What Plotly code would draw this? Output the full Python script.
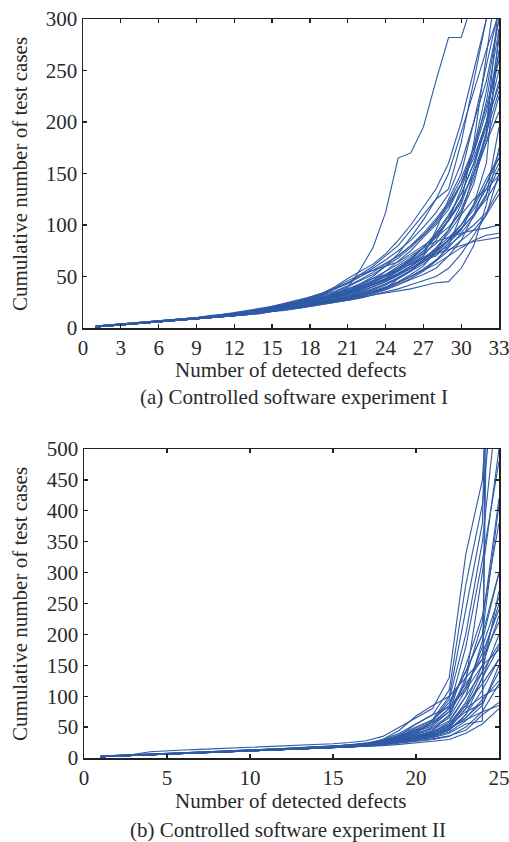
import plotly.graph_objects as go

# ---------- Data: experiment I (x = 1..33) ----------
defects_a = list(range(1, 34))
runs_a = [
    [1,2,3,4,5,6,7,8,9,11,12,14,15,17,19,21,23,26,29,33,39,57,78,112,165,170,195,240,282,282,320,350,380],
    [1,2,3,4,5,6,7,8,10,11,12,14,16,18,20,22,25,28,32,38,44,52,60,70,80,95,110,125,135,180,240,300,330],
    [2,3,4,5,6,7,8,9,10,12,13,15,17,19,21,23,25,27,30,33,36,40,46,55,65,75,88,100,115,140,170,220,290],
    [1,2,3,4,5,6,7,8,9,10,11,12,14,15,17,19,21,23,25,28,30,34,38,42,48,55,62,72,85,100,120,145,165],
    [1,2,3,4,5,6,7,8,9,10,11,13,14,16,18,20,22,25,28,31,35,40,45,50,55,62,68,72,76,80,84,86,88],
    [1,2,3,4,5,6,7,8,9,11,12,13,15,17,19,21,23,26,29,32,36,42,48,55,62,70,78,84,88,92,95,97,100],
    [1,2,3,4,5,6,7,8,9,10,12,13,15,16,18,20,22,24,26,28,31,35,40,46,52,60,70,85,105,135,170,210,260],
    [1,2,3,4,5,6,7,8,9,10,11,13,14,16,17,19,21,23,25,27,29,32,36,40,45,52,60,75,95,120,155,200,250],
    [2,3,4,5,6,7,8,9,10,11,13,14,16,18,20,23,26,29,33,38,43,50,58,66,75,85,98,112,130,160,200,255,310],
    [1,2,3,4,5,6,7,8,9,10,11,12,14,15,16,18,19,21,23,25,27,30,33,37,42,48,55,65,80,110,150,190,230],
    [1,2,3,4,5,6,7,8,9,11,12,14,16,18,20,22,24,27,30,34,38,43,50,60,72,88,105,125,150,190,230,270,305],
    [1,2,3,4,5,6,7,8,9,10,11,13,14,15,17,18,20,22,24,26,28,31,34,38,42,47,52,58,70,85,110,140,170],
    [1,2,3,4,5,6,7,8,10,11,13,14,16,18,20,23,26,30,34,40,48,55,62,72,85,100,118,135,160,200,250,300,340],
    [1,2,3,4,5,6,7,8,9,10,11,12,14,15,17,19,21,23,25,27,30,33,37,42,48,56,66,78,92,110,125,135,148],
    [1,2,3,4,5,6,7,8,9,10,12,13,15,17,19,21,24,27,31,35,40,46,52,60,68,78,90,104,120,140,165,200,235],
    [1,2,3,4,5,6,7,8,9,10,11,12,13,15,16,18,20,22,24,26,29,32,35,39,44,50,57,65,75,85,95,110,130],
    [2,3,4,5,6,7,8,9,10,11,12,14,15,17,19,21,23,25,28,31,34,38,43,48,55,63,72,82,95,115,145,180,225],
    [1,2,3,4,5,6,7,8,9,10,11,13,15,17,19,21,23,25,28,31,34,38,42,47,53,60,68,76,85,96,110,130,155],
    [1,2,3,4,5,6,7,8,9,11,12,14,16,18,21,24,27,30,34,38,44,50,56,63,70,80,90,102,118,140,175,230,300],
    [1,2,3,4,5,6,7,8,9,10,11,12,13,14,16,17,19,21,23,25,27,29,32,35,38,42,46,50,58,72,90,110,150],
    [1,2,3,4,5,6,7,8,9,10,11,13,14,16,18,20,22,24,27,30,33,37,42,48,56,66,78,92,110,130,160,195,240],
    [1,2,3,4,5,6,7,8,9,10,12,13,15,17,19,21,23,26,29,32,36,40,45,51,58,67,78,90,105,125,150,185,270],
    [1,2,3,4,5,6,7,8,9,10,11,12,14,15,17,18,20,22,24,26,29,32,35,39,44,50,56,62,70,78,85,90,92],
    [1,2,3,4,5,6,7,8,9,11,12,13,15,17,19,22,25,28,32,36,41,47,54,62,70,80,92,106,122,145,175,215,265],
    [1,2,3,4,5,6,7,8,9,10,11,12,14,15,17,19,21,23,25,28,31,34,38,43,49,56,64,74,86,100,118,140,165],
    [1,2,3,4,5,6,7,8,9,10,11,13,14,16,18,20,22,25,28,31,35,39,44,50,57,65,75,88,105,125,150,180,210],
    [2,3,4,5,6,7,8,9,10,11,12,14,15,17,19,21,23,26,29,32,36,41,46,52,60,68,78,92,108,130,160,200,280],
    [1,2,3,4,5,6,7,8,9,10,11,12,13,15,16,18,20,22,24,27,29,32,35,39,44,50,57,66,78,92,108,128,195],
    [1,2,3,4,5,6,7,8,9,10,12,13,15,17,19,21,23,26,28,31,34,38,42,47,53,60,68,77,88,100,115,135,160],
    [1,2,3,4,5,6,7,8,9,10,11,13,14,16,18,20,22,24,26,29,32,36,40,45,51,58,66,75,85,97,110,125,145],
    [1,2,3,4,5,6,7,8,9,10,12,13,15,17,20,22,25,29,33,39,46,52,56,60,64,72,80,88,98,112,140,190,320],
    [1,2,3,4,5,6,7,8,9,10,11,12,14,16,18,20,21,23,24,26,27,30,32,34,36,38,41,44,45,58,80,120,175],
    [1,2,3,4,5,6,7,8,9,11,12,14,16,17,19,21,24,27,29,34,37,43,48,52,58,64,73,90,104,122,180,260,350],
    [1,2,3,4,5,6,7,8,9,10,11,12,13,14,16,18,20,22,24,26,28,31,35,38,48,55,66,70,82,95,120,160,290],
    [2,3,4,5,6,7,8,9,10,11,13,14,15,17,19,21,23,25,28,30,33,38,42,47,58,62,70,95,125,150,200,240,300],
    [1,2,3,4,5,6,7,8,9,10,11,12,14,16,17,19,21,24,26,29,33,36,40,45,52,58,64,72,80,90,100,112,135],
]

# ---------- Data: experiment II (x = 1..25) ----------
defects_b = list(range(1, 26))
runs_b = [
    [2,4,6,10,12,13,14,15,16,17,19,20,21,22,23,25,28,35,50,65,80,130,330,450,900],
    [2,3,4,5,6,7,8,9,10,11,12,13,14,15,16,18,19,20,22,24,27,30,40,55,80],
    [2,3,5,6,7,8,9,10,11,12,13,14,15,16,18,19,21,24,28,33,38,45,70,110,160],
    [3,4,5,6,7,8,9,10,12,13,14,15,17,18,19,21,23,27,34,45,60,95,200,350,600],
    [2,3,4,5,6,7,9,10,11,12,13,14,15,17,18,20,22,25,30,36,42,55,90,150,230],
    [2,3,4,6,7,8,9,10,11,12,14,15,16,17,19,21,24,30,40,55,70,110,280,410,700],
    [2,3,4,5,6,7,8,9,10,11,12,13,14,16,17,19,21,24,27,31,36,48,65,95,125],
    [2,3,5,6,7,8,9,10,11,13,14,15,16,17,19,20,23,28,38,50,62,85,140,200,300],
    [3,4,5,6,7,8,9,11,12,13,14,15,16,18,19,21,23,26,30,34,40,50,80,130,180],
    [2,3,4,5,6,7,8,9,10,11,12,14,15,16,18,19,21,23,26,30,33,40,55,60,3000],
    [2,3,4,5,7,8,9,10,11,12,13,14,15,17,18,20,22,26,32,40,48,65,110,180,260],
    [2,3,4,5,6,7,8,9,10,11,12,13,15,16,17,18,20,22,25,28,31,36,45,70,90],
    [2,4,5,6,7,8,9,10,11,12,13,15,16,17,19,21,23,27,33,42,52,75,150,230,380],
    [2,3,4,5,6,7,8,9,10,11,12,13,14,15,16,18,20,22,26,32,38,48,80,100,115],
    [2,3,4,5,6,8,9,10,11,12,13,14,16,17,18,20,22,25,29,35,44,70,130,220,420],
    [3,4,5,6,7,8,9,10,11,12,14,15,16,17,19,21,24,29,36,46,58,80,120,160,250],
    [2,3,4,5,6,7,8,9,10,11,12,13,14,15,17,18,20,22,25,29,34,42,60,85,150],
    [2,3,4,5,6,7,8,10,11,12,13,14,15,16,18,19,21,25,31,38,46,60,100,140,185],
    [2,3,4,5,6,7,8,9,10,12,13,14,15,17,18,20,22,26,35,48,62,100,240,380,1500],
    [2,3,4,5,6,7,8,9,10,11,12,13,14,15,16,17,19,21,24,27,30,35,50,75,120],
    [2,3,5,6,7,8,9,10,12,13,14,15,16,18,19,21,23,28,36,44,55,75,115,170,240],
    [2,3,4,5,6,7,8,9,10,11,12,13,15,16,17,19,21,24,28,33,40,52,85,120,160],
    [2,3,4,5,6,7,8,9,11,12,13,14,15,16,18,20,22,25,30,38,50,68,125,300,500],
    [2,3,4,6,7,8,9,10,11,12,13,14,16,17,18,20,22,25,29,34,40,52,75,88,140],
    [2,3,4,5,6,7,8,9,10,11,12,13,14,15,17,18,20,23,26,30,35,45,70,130,200],
    [2,3,4,5,6,7,8,9,10,11,13,14,15,16,18,19,21,24,28,34,42,58,100,190,300],
    [3,4,5,6,7,8,9,10,11,12,13,14,15,17,18,20,22,25,30,36,43,55,85,140,270],
    [2,3,4,5,6,7,8,9,10,11,12,13,14,16,17,19,21,24,27,31,37,48,62,75,85],
    [2,3,4,5,6,7,8,9,10,11,12,14,15,16,18,19,22,26,33,43,55,80,180,320,480],
    [2,3,4,5,6,7,8,9,10,11,12,13,14,15,17,18,20,23,27,31,36,46,65,90,2000],
    [2,3,4,5,6,7,8,9,10,11,12,13,14,15,16,18,20,26,36,55,70,82,110,150,175],
    [2,3,4,5,6,7,8,9,10,11,12,13,14,15,17,19,21,24,30,40,60,90,140,200,410],
    [2,3,4,5,6,7,8,9,10,11,12,13,14,16,17,19,22,30,45,68,85,100,130,160,220],
]

xticks_a = list(range(0, 34, 3))
yticks_a = list(range(0, 301, 50))
xticks_b = list(range(0, 26, 5))
yticks_b = list(range(0, 501, 50))

LINE_COLOR = "#2f5aa6"
FONT = "Liberation Serif"
TXT = "#2a2a2a"
W, H = 509, 842

fig = go.Figure()
for r in runs_a:
    fig.add_trace(go.Scatter(x=defects_a, y=r, mode="lines", xaxis="x", yaxis="y",
                             line=dict(color=LINE_COLOR, width=1.1), showlegend=False, hoverinfo="skip"))
for r in runs_b:
    fig.add_trace(go.Scatter(x=defects_b, y=r, mode="lines", xaxis="x2", yaxis="y2",
                             line=dict(color=LINE_COLOR, width=1.1), showlegend=False, hoverinfo="skip"))

def px_x(p):
    return p / W

def px_y(p):
    return 1 - p / H

axis_common = dict(showline=True, mirror="ticks", linecolor="#222", linewidth=1.5,
                   ticks="inside", ticklen=4, tickwidth=1.2, tickcolor="#222",
                   showgrid=False, zeroline=False, automargin=False,
                   ticklabeloverflow="allow",
                   tickfont=dict(family=FONT, size=21, color=TXT))

fig.update_layout(
    width=W, height=H, margin=dict(l=0, r=0, t=0, b=0, autoexpand=False),
    paper_bgcolor="white", plot_bgcolor="white",
    xaxis=dict(domain=[px_x(83), px_x(499)], range=[0, 33], tickvals=xticks_a, anchor="y", **axis_common),
    yaxis=dict(domain=[px_y(328), px_y(19)], range=[0, 300], tickvals=yticks_a, anchor="x", **axis_common),
    xaxis2=dict(domain=[px_x(84), px_x(499)], range=[0, 25], tickvals=xticks_b, anchor="y2", **axis_common),
    yaxis2=dict(domain=[px_y(758), px_y(449)], range=[0, 500], tickvals=yticks_b, anchor="x2", **axis_common),
)

def ann(text, x, y, angle=0):
    fig.add_annotation(text=text, x=px_x(x), y=px_y(y), xref="paper", yref="paper",
                       showarrow=False, textangle=angle, xanchor="center", yanchor="middle",
                       font=dict(family=FONT, size=21, color=TXT))

ann("Number of detected defects", 290, 370)
ann("(a) Controlled software experiment I", 294, 397)
ann("Cumulative number of test cases", 20, 174, -90)
ann("Number of detected defects", 290, 801)
ann("(b) Controlled software experiment II", 288, 830)
ann("Cumulative number of test cases", 20, 604, -90)

fig.write_html(
    "out.html",
    config={"displayModeBar": False, "staticPlot": True},
    post_script="document.body.style.margin='0';document.body.style.overflow='hidden';",
)
